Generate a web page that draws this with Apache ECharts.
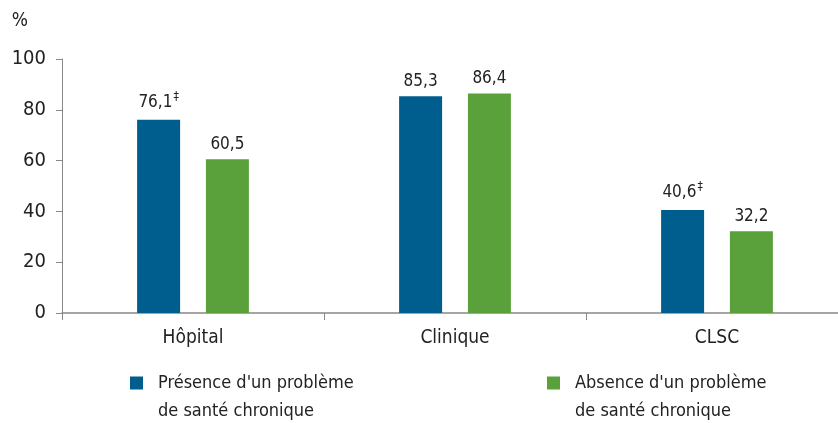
<!DOCTYPE html>
<html><head><meta charset="utf-8">
<script src="https://cdn.jsdelivr.net/npm/echarts@6/dist/echarts.min.js"></script>
<style>html,body{margin:0;padding:0;background:#fff}#c{width:838px;height:423px}</style>
</head><body><div id="c"></div>
<script>
const categories = ['Hôpital', 'Clinique', 'CLSC'];
const presence = [76.1, 85.3, 40.6];
const absence = [60.5, 86.4, 32.2];
const presenceMarks = ['‡', '', '‡'];
const absenceMarks = ['', '', ''];
const seriesNames = ["Présence d'un problème\nde santé chronique", "Absence d'un problème\nde santé chronique"];
const yTicks = [0, 20, 40, 60, 80, 100];

const FONT = '"Liberation Sans Narrow", "DejaVu Sans Condensed", sans-serif';
const fmt = v => v.toFixed(1).replace('.', ',');
const chart = echarts.init(document.getElementById('c'));
function labelFor(marks) {
  return {
    show: true, position: 'top', distance: 6,
    formatter: p => '{v|' + fmt(p.value) + '}' + (marks[p.dataIndex] ? '{s|' + marks[p.dataIndex] + '}' : ''),
    rich: {
      v: { fontFamily: FONT, fontSize: 17, color: '#222' },
      s: { fontFamily: FONT, fontSize: 12, color: '#222', verticalAlign: 'bottom', padding: [0, 0, 11, 1] }
    }
  };
}
// icon: 13x13 square aligned with first text line inside a 13x56 box
const legendIcon = 'path://M0,0h0.01v0.01h-0.01z M0,7.5h13v13h-13z M12.99,55.99h0.01v0.01h-0.01z';
function legendFor(name, left) {
  return {
    data: [name], left: left, top: 369, padding: 0, itemWidth: 13, itemHeight: 56, itemGap: 0,
    icon: legendIcon,
    textStyle: { fontFamily: FONT, fontSize: 18, color: '#222', lineHeight: 28, padding: [0, 0, 0, 10] }
  };
}
chart.setOption({
  animation: false,
  textStyle: { fontFamily: FONT },
  grid: { left: 62, width: 786, top: 59, bottom: 110, outerBoundsMode: 'none', containLabel: false },
  legend: [legendFor(seriesNames[0], 130), legendFor(seriesNames[1], 547)],
  xAxis: {
    type: 'category', data: categories,
    axisLine: { lineStyle: { color: '#888', width: 1.5 } },
    axisTick: { show: true, length: 7, lineStyle: { color: '#888' } },
    axisLabel: { fontFamily: FONT, fontSize: 19, color: '#222', margin: 16 }
  },
  yAxis: {
    type: 'value', min: 0, max: 100, interval: 20,
    name: '%', nameLocation: 'end', nameGap: 28,
    nameTextStyle: { fontFamily: FONT, fontSize: 19, color: '#222', align: 'right', padding: [0, 34, 0, 0] },
    axisLine: { show: true, lineStyle: { color: '#888', width: 1 } },
    axisTick: { show: true, length: 6, lineStyle: { color: '#888' } },
    axisLabel: { fontFamily: FONT, fontSize: 20, color: '#222', margin: 16,
      formatter: v => yTicks.includes(v) ? String(v) : '' },
    splitLine: { show: false }
  },
  series: [
    { name: seriesNames[0], type: 'bar', data: presence, barWidth: 43, barGap: '60%',
      itemStyle: { color: '#005e8e' }, label: labelFor(presenceMarks) },
    { name: seriesNames[1], type: 'bar', data: absence, barWidth: 43,
      itemStyle: { color: '#5ba13b' }, label: labelFor(absenceMarks) }
  ]
});
</script></body></html>
